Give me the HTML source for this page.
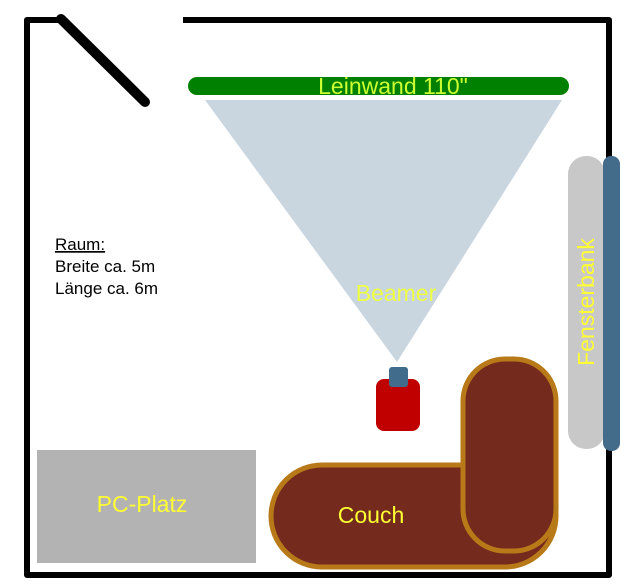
<!DOCTYPE html>
<html><head><meta charset="utf-8"><style>
html,body{margin:0;padding:0;background:#fff;width:636px;height:587px;overflow:hidden}
svg{display:block}
text{font-family:"Liberation Sans",sans-serif}
</style></head><body>
<svg width="636" height="587" viewBox="0 0 636 587" xmlns="http://www.w3.org/2000/svg">
<polyline points="60,20 27,20 27,575 609,575 609,20 183,20" fill="none" stroke="#000" stroke-width="6" stroke-linejoin="round"/>
<line x1="61" y1="19" x2="145" y2="102" stroke="#000" stroke-width="10" stroke-linecap="round"/>
<rect x="188" y="77" width="381" height="18" rx="9" fill="#008000"/>
<text x="393" y="94" font-size="23" fill="#ccff33" text-anchor="middle">Leinwand 110"</text>
<polygon points="205,100 562,100 397,362" fill="#c9d5df"/>
<text x="396" y="301" font-size="23" fill="#eeff44" text-anchor="middle">Beamer</text>
<rect x="376" y="379" width="44" height="52" rx="8" fill="#c00000"/>
<rect x="389" y="367" width="19" height="20" rx="3" fill="#416c8c"/>
<rect x="568" y="156" width="37" height="293" rx="18" fill="#c8c8c8"/>
<rect x="603" y="156" width="17" height="295" rx="8" fill="#436b8a"/>
<text transform="translate(594,302) rotate(-90)" font-size="23" fill="#ffff33" text-anchor="middle">Fensterbank</text>
<rect x="37" y="450" width="219" height="113" fill="#b3b3b3"/>
<text x="142" y="512" font-size="23" fill="#ffff33" text-anchor="middle">PC-Platz</text>
<path d="M322,465 L505,465 A51,51 0 0 1 556,516 A51,51 0 0 1 505,567 L322,567 A51,51 0 0 1 322,465 Z" fill="#742a1c" stroke="#b87a18" stroke-width="5"/>
<rect x="463" y="359" width="93" height="192" rx="42" fill="#742a1c" stroke="#b87a18" stroke-width="5"/>
<text x="371" y="523" font-size="23" fill="#ffff33" text-anchor="middle">Couch</text>
<text x="55" y="250" font-size="17" fill="#000" text-decoration="underline">Raum:</text>
<text x="55" y="272" font-size="17" fill="#000">Breite ca. 5m</text>
<text x="55" y="294" font-size="17" fill="#000">Länge ca. 6m</text>
</svg>
</body></html>
